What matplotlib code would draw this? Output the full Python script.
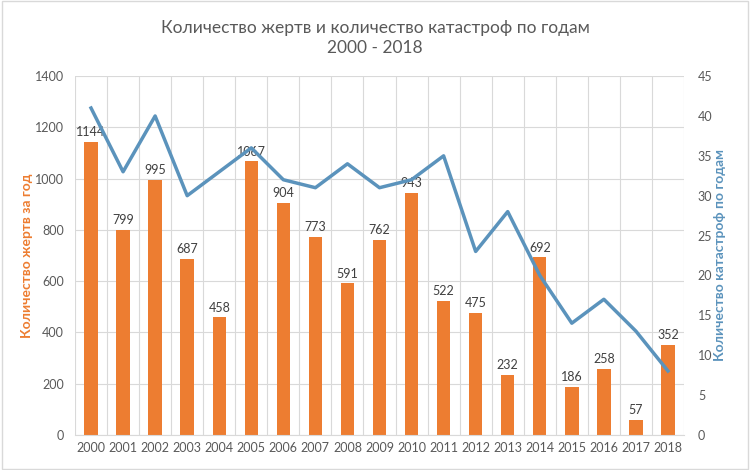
import matplotlib.pyplot as plt
import numpy as np

plt.rcParams['font.family'] = ['Lato', 'DejaVu Sans']

years = ['2000', '2001', '2002', '2003', '2004', '2005', '2006', '2007', '2008', '2009',
         '2010', '2011', '2012', '2013', '2014', '2015', '2016', '2017', '2018']
victims = [1144, 799, 995, 687, 458, 1067, 904, 773, 591, 762,
           943, 522, 475, 232, 692, 186, 258, 57, 352]
crashes = [41, 33, 40, 30, 33, 36, 32, 31, 34, 31,
           32, 35, 23, 28, 20, 14, 17, 13, 8]

orange = '#ED7D31'
blue = '#5B93BC'
gray = '#595959'

fig = plt.figure(figsize=(7.5, 4.7), dpi=100)
ax = fig.add_axes([0.1, 0.075, 0.812, 0.763])
x = np.arange(len(years))

bars = ax.bar(x, victims, width=0.42, color=orange, zorder=2)
for xi, v in zip(x, victims):
    ax.text(xi, v + 15, str(v), ha='center', va='bottom', fontsize=9, color='#404040', zorder=5)

ax.set_xlim(-0.5, len(years) - 0.5)
ax.set_ylim(0, 1400)
ax.set_yticks(range(0, 1401, 200))
ax.set_xticks(x)
ax.set_xticklabels(years)
ax.set_xticks(np.arange(-0.5, len(years), 1), minor=True)
ax.grid(axis='y', color='#D9D9D9', lw=0.8, zorder=0)
ax.grid(axis='x', which='minor', color='#D9D9D9', lw=0.8, zorder=0)
ax.tick_params(axis='both', which='both', length=0, labelsize=9, colors=gray)
ax.tick_params(axis='x', pad=5)
ax.tick_params(axis='y', pad=8)
for s in ax.spines.values():
    s.set_visible(False)
ax.spines['bottom'].set_visible(True)
ax.spines['bottom'].set_color('#D9D9D9')
ax.set_ylabel('Количество жертв за год', color=orange, fontsize=10, fontweight='bold', labelpad=1)

ax2 = ax.twinx()
ax2.plot(x, crashes, color=blue, lw=2.5, zorder=3)
ax2.set_ylim(0, 45)
ax2.set_yticks(range(0, 46, 5))
ax2.tick_params(axis='y', length=0, labelsize=9, colors=gray, pad=10)
for s in ax2.spines.values():
    s.set_visible(False)
ax2.set_ylabel('Количество катастроф по годам', color=blue, fontsize=10, fontweight='bold', labelpad=1)

fig.text(0.5, 0.94, 'Количество жертв и количество катастроф по годам', ha='center', va='center',
         fontsize=12.5, color=gray)
fig.text(0.5, 0.897, '2000 - 2018', ha='center', va='center', fontsize=12.5, color=gray)

border = plt.Rectangle((0.003, 0.003), 0.994, 0.994, transform=fig.transFigure,
                       fill=False, edgecolor='#D9D9D9', lw=1)
fig.patches.append(border)

fig.savefig('out.png', dpi=100)
